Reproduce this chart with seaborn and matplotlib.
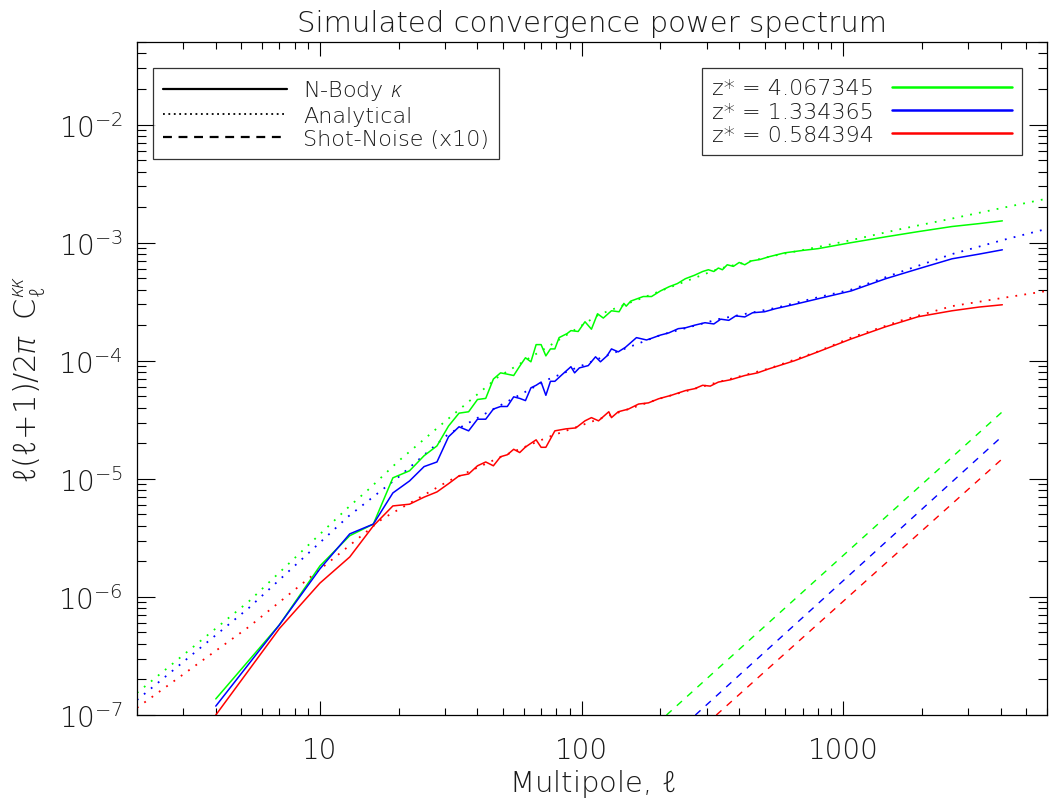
import numpy as np
import pandas as pd
import matplotlib
matplotlib.use("Agg")
import matplotlib.pyplot as plt
import seaborn as sns
from matplotlib.lines import Line2D
from matplotlib.ticker import FuncFormatter, NullFormatter
from matplotlib import font_manager as fm

# ---------------- data ----------------
z_labels = ["z* = 4.067345", "z* = 1.334365", "z* = 0.584394"]
colors = ["#00ff00", "#0000ff", "#ff0000"]

# N-Body kappa (solid)
ell_green = [4, 7, 10, 13, 16, 19, 22, 25, 28, 31, 34, 37, 40, 43, 46, 49, 52, 55, 58, 61, 64, 67, 70,
             73, 76, 79, 82, 88, 91, 97, 103, 109, 115, 121, 130, 139, 145, 148, 154, 163, 172, 185,
             200, 216, 232, 249, 270, 290, 305, 320, 333, 345, 360, 380, 400, 420, 444, 480, 520, 596,
             700, 800, 1070, 1450, 1930, 2600, 3300, 4050]
cl_green = [1.37e-7, 5.8e-7, 1.83e-6, 3.3e-6, 4.14e-6, 1.02e-5, 1.17e-5, 1.57e-5, 1.9e-5, 2.8e-5,
            3.6e-5, 3.7e-5, 4.7e-5, 4.8e-5, 7.0e-5, 7.9e-5, 7.7e-5, 7.5e-5, 9.0e-5, 1.06e-4, 9.8e-5,
            1.37e-4, 1.37e-4, 1.1e-4, 1.26e-4, 1.26e-4, 1.57e-4, 1.7e-4, 1.8e-4, 1.77e-4, 2.14e-4,
            1.85e-4, 2.5e-4, 2.3e-4, 2.65e-4, 2.6e-4, 3.06e-4, 2.9e-4, 3.2e-4, 3.35e-4, 3.5e-4, 3.5e-4,
            3.9e-4, 4.24e-4, 4.5e-4, 4.95e-4, 5.3e-4, 5.7e-4, 5.9e-4, 5.7e-4, 6.1e-4, 5.9e-4, 6.5e-4,
            6.3e-4, 6.8e-4, 6.5e-4, 7.0e-4, 7.2e-4, 7.6e-4, 8.2e-4,
            8.6e-4, 8.9e-4, 1.0e-3, 1.12e-3, 1.24e-3, 1.37e-3, 1.45e-3, 1.53e-3]

ell_blue = [4, 7, 10, 13, 16, 19, 22, 25, 28, 31, 34, 37, 40, 43, 46, 49, 52, 55, 58, 61, 64, 67, 70,
            73, 76, 79, 84, 91, 94, 98, 106, 113, 118, 125, 130, 138, 147, 162, 177, 185, 200, 215,
            234, 249, 270, 296, 320, 340, 365, 388, 420, 450, 500, 550, 650, 800, 1070, 1450, 1930,
            2600, 3300, 4050]
cl_blue = [1.19e-7, 5.8e-7, 1.73e-6, 3.42e-6, 4.14e-6, 7.6e-6, 9.6e-6, 1.27e-5, 1.39e-5, 2.27e-5,
           2.76e-5, 2.55e-5, 3.2e-5, 3.2e-5, 3.9e-5, 4.1e-5, 4.1e-5, 4.95e-5, 4.8e-5, 4.6e-5, 5.9e-5,
           6.2e-5, 6.6e-5, 5.1e-5, 6.7e-5, 6.7e-5, 7.6e-5, 8.9e-5, 7.9e-5, 8.7e-5, 9.1e-5, 1.08e-4,
           9.8e-5, 1.1e-4, 1.26e-4, 1.19e-4, 1.3e-4, 1.57e-4, 1.5e-4, 1.55e-4, 1.65e-4, 1.72e-4,
           1.87e-4, 1.9e-4, 2.0e-4, 2.1e-4, 2.05e-4, 2.25e-4, 2.2e-4, 2.4e-4, 2.35e-4, 2.55e-4,
           2.6e-4, 2.76e-4, 3.0e-4, 3.35e-4, 3.9e-4, 4.95e-4, 6.0e-4, 7.3e-4, 8.0e-4, 8.7e-4]

ell_red = [4, 7, 10, 13, 16, 19, 22, 25, 28, 31, 34, 37, 40, 43, 46, 49, 52, 55, 58, 61, 64, 67, 70,
           73, 79, 87, 95, 103, 109, 116, 127, 130, 138, 151, 165, 180, 197, 220, 250, 270, 290, 310,
           333, 370, 420, 470, 520, 650, 800, 1070, 1450, 1930, 2600, 3300, 4050]
cl_red = [1.0e-7, 5.4e-7, 1.31e-6, 2.18e-6, 4.0e-6, 5.9e-6, 6.1e-6, 7.0e-6, 7.75e-6, 9.1e-6, 1.06e-5,
          1.1e-5, 1.29e-5, 1.39e-5, 1.29e-5, 1.54e-5, 1.6e-5, 1.78e-5, 1.67e-5, 1.86e-5, 2.0e-5,
          2.14e-5, 1.85e-5, 1.85e-5, 2.55e-5, 2.65e-5, 2.7e-5, 3.1e-5, 3.3e-5, 3.1e-5, 3.7e-5, 3.3e-5,
          3.7e-5, 3.9e-5, 4.3e-5, 4.4e-5, 4.77e-5, 5.1e-5, 5.6e-5, 5.8e-5, 6.2e-5, 6.1e-5, 6.6e-5,
          6.9e-5, 7.5e-5, 7.9e-5, 8.55e-5, 1.0e-4, 1.19e-4, 1.53e-4, 1.94e-4, 2.36e-4, 2.65e-4,
          2.85e-4, 2.98e-4]

# Analytical (dotted)
ell_an_green = [2, 5.36, 12.9, 15.4, 20, 29.2, 48, 75, 116, 200, 333, 520, 800, 1070, 1670, 2600, 4050, 6000]
an_green = [1.54e-7, 9.2e-7, 5.8e-6, 8.2e-6, 1.42e-5, 2.9e-5, 7.3e-5, 1.33e-4, 2.45e-4, 3.9e-4,
            6.0e-4, 7.6e-4, 9.2e-4, 1.05e-3, 1.31e-3, 1.6e-3, 1.97e-3, 2.36e-3]
ell_an_blue = [2, 5.36, 12.9, 20, 31, 48, 75, 116, 200, 333, 550, 800, 1070, 1670, 2600, 4050, 6000]
an_blue = [1.34e-7, 8.1e-7, 4.85e-6, 1.04e-5, 2.4e-5, 4.1e-5, 7.0e-5, 1.04e-4, 1.65e-4, 2.25e-4,
           2.8e-4, 3.45e-4, 4.0e-4, 5.7e-4, 8.0e-4, 1.05e-3, 1.31e-3]
ell_an_red = [2, 5.36, 12.9, 17.3, 31, 48, 75, 116, 200, 333, 520, 800, 1070, 1670, 2600, 4050, 6000]
an_red = [1.15e-7, 5.6e-7, 2.7e-6, 4.58e-6, 9.6e-6, 1.5e-5, 2.27e-5, 3.2e-5, 4.8e-5, 6.6e-5, 8.6e-5,
          1.2e-4, 1.57e-4, 2.2e-4, 2.9e-4, 3.4e-4, 3.9e-4]

# Shot-noise x10 (dashed)
ell_sn_green = [211, 4050]
sn_green = [1.0e-7, 3.7e-5]
ell_sn_blue = [272, 4050]
sn_blue = [1.0e-7, 2.3e-5]
ell_sn_red = [327, 4050]
sn_red = [1.0e-7, 1.48e-5]

legend_style_labels = ["N-Body $\\kappa$", "Analytical", "Shot-Noise (x10)"]
title = "Simulated convergence power spectrum"
xlabel = "Multipole, $\\ell$"
ylabel = "$\\ell(\\ell\\!+\\!1)/2\\pi\\ \\ \\mathrm{C}_{\\ell}^{\\kappa\\kappa}$"

# ---------------- style ----------------
sns.set_style("ticks")
plt.rcParams["font.family"] = ["DejaVu Sans"]


def _w(f):
    w = f.weight
    if isinstance(w, str):
        w = fm.weight_dict.get(w, 400)
    return int(w)


light_ok = any(f.name == "DejaVu Sans" and _w(f) <= 250 for f in fm.fontManager.ttflist)
W = 200 if light_ok else "normal"
plt.rcParams["font.weight"] = W
plt.rcParams["axes.titleweight"] = W
plt.rcParams["axes.labelweight"] = W

it_font = None
for fam in ["Noto Sans", "Open Sans", "Roboto", "Lato", "Inter"]:
    for f in fm.fontManager.ttflist:
        if (f.name == fam and f.style in ("italic", "oblique") and _w(f) <= 300
                and f.stretch == "normal"):
            it_font = f"{fam}:style={f.style}:weight={_w(f)}"
            break
    if it_font:
        break

if light_ok:
    plt.rcParams["mathtext.fontset"] = "custom"
    plt.rcParams["mathtext.rm"] = "DejaVu Sans:weight=200"
    plt.rcParams["mathtext.it"] = it_font or "DejaVu Sans:style=oblique"
    plt.rcParams["mathtext.bf"] = "DejaVu Sans:weight=bold"
    plt.rcParams["mathtext.sf"] = "DejaVu Sans:weight=200"
    plt.rcParams["mathtext.fallback"] = "stixsans"
else:
    plt.rcParams["mathtext.fontset"] = "dejavusans"
txt = "#1a1a1a"

fig = plt.figure(figsize=(10.49, 8.03), dpi=100)
ax = fig.add_axes([0.1306, 0.1083, 0.8675, 0.8381])
ax.set_xscale("log")
ax.set_yscale("log")


def draw(ell, vals, color, ls, lw):
    df = pd.DataFrame({"ell": ell, "cl": vals})
    sns.lineplot(data=df, x="ell", y="cl", ax=ax, color=color, linestyle=ls, lw=lw,
                 estimator=None, legend=False)


draw(ell_an_green, an_green, colors[0], (0, (1, 4)), 1.3)
draw(ell_an_blue, an_blue, colors[1], (0, (1, 4)), 1.3)
draw(ell_an_red, an_red, colors[2], (0, (1, 4)), 1.3)
draw(ell_sn_green, sn_green, colors[0], (0, (5, 5)), 1.0)
draw(ell_sn_blue, sn_blue, colors[1], (0, (5, 5)), 1.0)
draw(ell_sn_red, sn_red, colors[2], (0, (5, 5)), 1.0)
draw(ell_green, cl_green, colors[0], "-", 1.1)
draw(ell_blue, cl_blue, colors[1], "-", 1.1)
draw(ell_red, cl_red, colors[2], "-", 1.1)

ax.set_xlim(2, 6000)
ax.set_ylim(1e-7, 5e-2)

ax.xaxis.set_major_formatter(FuncFormatter(lambda v, p: f"{int(round(v))}"))
ax.xaxis.set_minor_formatter(NullFormatter())
ax.yaxis.set_minor_formatter(NullFormatter())

ax.tick_params(which="both", direction="in", top=True, right=True, colors="black",
               labelcolor=txt, width=0.8)
ax.tick_params(axis="x", which="major", length=10, pad=15, labelsize=20)
ax.tick_params(axis="x", which="minor", length=5)
ax.tick_params(axis="y", which="major", length=13, pad=10, labelsize=20)
ax.tick_params(axis="y", which="minor", length=6.5)
for s in ax.spines.values():
    s.set_color("black")
    s.set_linewidth(0.9)

ax.set_title(title, fontsize=21, color=txt, pad=8, fontweight=W)
ax.set_xlabel(xlabel, fontsize=21, color=txt, labelpad=2, fontweight=W)
ax.set_ylabel(ylabel, fontsize=22, color=txt, labelpad=8, fontweight=W)

h1 = [Line2D([], [], color="black", lw=1.6, linestyle="-"),
      Line2D([], [], color="black", lw=1.3, linestyle=(0, (1, 2))),
      Line2D([], [], color="black", lw=1.6, linestyle=(0, (4, 3)))]
leg1 = ax.legend(h1, legend_style_labels, loc="upper left", bbox_to_anchor=(0.0176, 0.961),
                 borderaxespad=0, frameon=True, fancybox=False, fontsize=16, handlelength=5.6,
                 handletextpad=0.7, labelspacing=0.15, borderpad=0.45, labelcolor=txt)
leg1.get_frame().set_edgecolor("black")
leg1.get_frame().set_linewidth(0.9)
ax.add_artist(leg1)

h2 = [Line2D([], [], color=c, lw=1.8) for c in colors]
leg2 = ax.legend(h2, z_labels, loc="upper right", bbox_to_anchor=(0.9725, 0.961),
                 borderaxespad=0, frameon=True, fancybox=False, fontsize=16, handlelength=5.4,
                 handletextpad=0.8, labelspacing=0.15, borderpad=0.45, markerfirst=False,
                 labelcolor=txt)
leg2.get_frame().set_edgecolor("black")
leg2.get_frame().set_linewidth(0.9)

fig.savefig("out.png", dpi=100)
